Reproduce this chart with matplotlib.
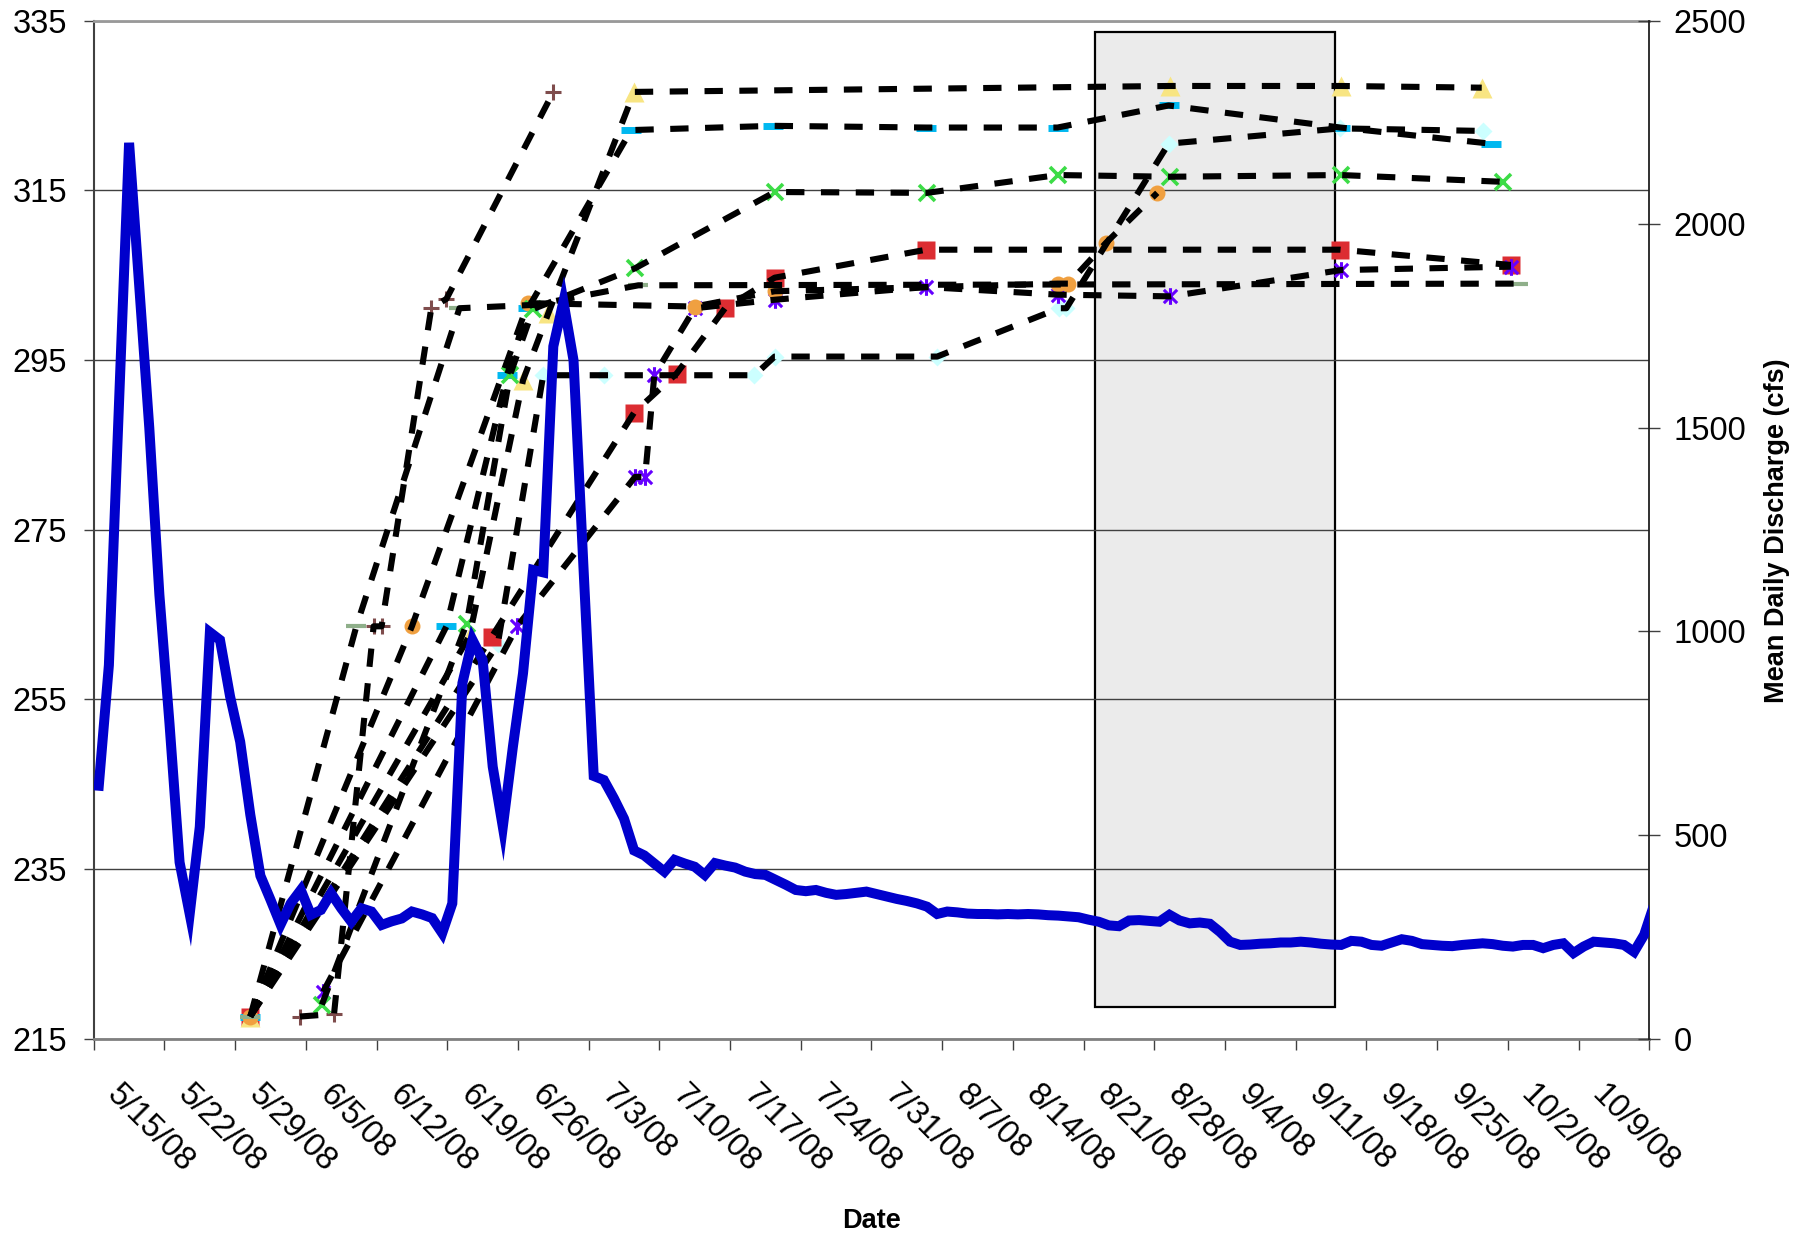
import matplotlib
matplotlib.use('Agg')
import matplotlib.pyplot as plt
import matplotlib.dates as mdates
from matplotlib.path import Path
from matplotlib.patches import Rectangle
from matplotlib.transforms import ScaledTranslation
import pandas as pd

plt.rcParams['font.family'] = ['Liberation Sans', 'DejaVu Sans']

# mean daily discharge (cfs), one value per day from 5/15/08 (plotted at noon)
flow_start = '2008-05-15 12:00'
flow_cfs = [621, 917, 1560, 2200, 1850, 1500, 1090, 774, 433, 306,
            520, 998, 979, 840, 729, 550, 400, 341, 280, 332,
            365, 304, 316, 357, 320, 287, 320, 312, 279, 288,
            295, 312, 305, 296, 259, 332, 873, 979, 930, 668,
            520, 717, 897, 1151, 1145, 1700, 1810, 1666, 1150, 645,
            635, 590, 540, 462, 450, 430, 410, 439, 430, 422,
            402, 431, 425, 420, 410, 404, 402, 390, 378, 365,
            362, 365, 358, 353, 355, 358, 361, 355, 349, 343,
            338, 332, 324, 306, 312, 310, 307, 306, 306, 305,
            306, 305, 306, 305, 303, 302, 300, 298, 292, 287,
            278, 276, 290, 291, 289, 287, 304, 290, 283, 285,
            282, 262, 238, 230, 231, 233, 234, 236, 236, 238,
            236, 233, 231, 230, 240, 238, 230, 228, 236, 244,
            240, 232, 230, 228, 227, 230, 232, 234, 232, 228,
            226, 230, 230, 222, 230, 234, 210, 226, 238, 236,
            234, 230, 213, 255, 330]

# elevation of each tag at each detection
yellow_t = ['2008-05-30 12:00', '2008-06-21 05:00', '2008-06-26 12:00', '2008-06-29 00:00',
            '2008-07-07 12:00', '2008-08-29 14:00', '2008-09-15 12:00', '2008-09-29 10:00']
yellow_v = [217.6, 262.5, 292.6, 300.5, 326.6, 327.3, 327.3, 327.1]

cyan_t = ['2008-05-30 12:00', '2008-06-18 22:00', '2008-06-24 22:00', '2008-06-27 00:00',
          '2008-07-07 05:00', '2008-07-21 07:00', '2008-08-05 10:00', '2008-08-18 10:00',
          '2008-08-29 10:00', '2008-09-15 10:00', '2008-09-30 07:00']
cyan_v = [217.6, 263.6, 293.2, 301.1, 322.1, 322.6, 322.4, 322.4, 325.0, 322.4, 320.5]

diamond_t = ['2008-05-30 12:00', '2008-06-24 00:00', '2008-06-28 12:00', '2008-07-04 12:00',
             '2008-07-19 10:00', '2008-07-21 10:00', '2008-08-06 12:00', '2008-08-18 14:00',
             '2008-08-19 07:00', '2008-08-29 10:00', '2008-09-15 10:00', '2008-09-29 12:00']
diamond_v = [217.6, 261.5, 293.2, 293.2, 293.2, 295.4, 295.4, 301.1, 301.1, 320.5, 322.3, 322.0]

red_t = ['2008-05-30 12:00', '2008-06-23 10:00', '2008-07-07 12:00', '2008-07-11 17:00',
         '2008-07-16 12:00', '2008-07-21 10:00', '2008-08-05 10:00', '2008-09-15 10:00',
         '2008-10-02 07:00']
red_v = [217.6, 262.4, 288.8, 293.4, 301.1, 304.7, 308.0, 308.0, 306.2]

purple_t = ['2008-06-06 17:00', '2008-06-25 22:00', '2008-07-07 14:00', '2008-07-08 14:00',
            '2008-07-09 12:00', '2008-07-13 12:00', '2008-07-21 10:00', '2008-08-05 10:00',
            '2008-08-18 10:00', '2008-08-29 14:00', '2008-09-15 12:00', '2008-10-02 07:00']
purple_v = [220.5, 263.6, 281.2, 281.2, 293.2, 301.1, 302.1, 303.6, 302.7, 302.5, 305.6, 306.0]

green_t = ['2008-06-06 14:00', '2008-06-20 22:00', '2008-06-25 05:00', '2008-06-27 12:00',
           '2008-07-07 14:00', '2008-07-21 10:00', '2008-08-05 12:00', '2008-08-18 10:00',
           '2008-08-29 14:00', '2008-09-15 12:00', '2008-10-01 12:00']
green_v = [219.0, 263.9, 293.2, 301.0, 305.8, 314.8, 314.7, 316.8, 316.6, 316.8, 316.0]

orange_t = ['2008-05-30 12:00', '2008-06-15 12:00', '2008-06-27 00:00', '2008-07-13 12:00',
            '2008-07-21 10:00', '2008-08-18 10:00', '2008-08-19 12:00', '2008-08-23 05:00',
            '2008-08-28 07:00']
orange_v = [217.6, 263.6, 301.7, 301.3, 303.1, 304.0, 304.0, 308.8, 314.7]

brown_t = ['2008-06-04 10:00', '2008-06-07 19:00', '2008-06-11 17:00', '2008-06-12 12:00',
           '2008-06-17 10:00', '2008-06-18 22:00', '2008-06-29 12:00']
brown_v = [217.6, 217.9, 263.6, 263.6, 301.1, 302.2, 326.6]

olive_t = ['2008-05-30 12:00', '2008-06-10 00:00', '2008-06-20 05:00', '2008-06-27 17:00',
           '2008-07-07 22:00', '2008-10-03 00:00']
olive_v = [217.6, 263.6, 301.1, 301.5, 303.8, 304.0]

# shaded period
box_start, box_end = '2008-08-22 04:00', '2008-09-14 22:00'
box_low, box_high = 218.7, 333.7

# x axis
x_min, x_max = '2008-05-15', '2008-10-16'
tick_labels = ['5/15/08', '5/22/08', '5/29/08', '6/5/08', '6/12/08', '6/19/08', '6/26/08',
               '7/3/08', '7/10/08', '7/17/08', '7/24/08', '7/31/08', '8/7/08', '8/14/08',
               '8/21/08', '8/28/08', '9/4/08', '9/11/08', '9/18/08', '9/25/08', '10/2/08',
               '10/9/08']

# Excel "star" marker: an x with a vertical bar
star = Path([(0, -1), (0, 1), (-0.8, -0.8), (0.8, 0.8), (-0.8, 0.8), (0.8, -0.8)],
            [Path.MOVETO, Path.LINETO] * 3)

series = [
    (diamond_t, diamond_v, dict(marker='D', ms=9.5, mfc='#CCFFFF', mec='none')),
    (red_t, red_v, dict(marker='s', ms=13, mfc='#DC2D32', mec='none')),
    (yellow_t, yellow_v, dict(marker='^', ms=14, mfc='#F8E582', mec='none')),
    (cyan_t, cyan_v, dict(marker='_', ms=14, mec='#00B8F0', mew=5)),
    (purple_t, purple_v, dict(marker=star, ms=12, mec='#6600FF', mew=2.2)),
    (orange_t, orange_v, dict(marker='o', ms=11.5, mfc='#F0A040', mec='none')),
    (brown_t, brown_v, dict(marker='+', ms=11.5, mec='#7F4C4C', mew=2.2)),
    (green_t, green_v, dict(marker='x', ms=12, mec='#3CDC46', mew=2.6)),
    (olive_t, olive_v, dict(marker='_', ms=14, mec='#8FAF8A', mew=3)),
]

fig = plt.figure(figsize=(18.06, 12.37), dpi=100)
ax = fig.add_axes([0.0519, 0.1604, 0.8613, 0.8229])
ax2 = ax.twinx()

t0 = mdates.date2num(pd.Timestamp(box_start))
t1 = mdates.date2num(pd.Timestamp(box_end))
ax.add_patch(Rectangle((t0, box_low), t1 - t0, box_high - box_low,
                       facecolor='#EBEBEB', edgecolor='black', lw=1.6, zorder=0.4))

for t, v, style in series:
    t = pd.to_datetime(t)
    ax.plot(t, v, linestyle='none', zorder=3, **style)
    ax.plot(t, v, color='black', lw=4.4, dashes=(3.0, 2.7), zorder=4)

flow_t = pd.date_range(flow_start, periods=len(flow_cfs), freq='D')
ax2.plot(flow_t, flow_cfs, color='#0000CC', lw=7.2, solid_joinstyle='miter', zorder=5)

ax.set_xlim(pd.Timestamp(x_min), pd.Timestamp(x_max))
ax.set_ylim(215, 335)
ax2.set_ylim(0, 2500)
ax.set_yticks(range(215, 336, 20))
ax2.set_yticks(range(0, 2501, 500))

ticks = pd.date_range(x_min, x_max, freq='7D')
ax.set_xticks(ticks)
ax.tick_params(axis='x', labelbottom=False)
label_trans = ax.get_xaxis_transform() + ScaledTranslation(0.29, -0.40, fig.dpi_scale_trans)
for t, lab in zip(ticks, tick_labels):
    ax.text(t, 0, lab, transform=label_trans, fontsize=23.5, rotation=-45,
            rotation_mode='anchor', ha='left', va='top')

ax.yaxis.grid(True, color='#404040', lw=1)
ax.set_axisbelow(True)

ax.tick_params(axis='y', direction='out', length=7, width=1, color='#404040', labelsize=23.5, pad=12)
ax.tick_params(axis='x', direction='out', length=8, width=1, color='#404040')
ax2.tick_params(axis='y', direction='inout', length=15.5, width=1, color='#404040', labelsize=23.5, pad=9.7)

for s in ['left', 'right', 'top', 'bottom']:
    ax2.spines[s].set_visible(False)
ax.spines['right'].set_visible(False)
ax2.spines['right'].set_visible(True)
ax2.spines['right'].set_color('#202020')
ax2.spines['right'].set_linewidth(1.3)
ax.spines['left'].set_color('#404040')
ax.spines['left'].set_linewidth(1.5)
ax.spines['top'].set_color('#999999')
ax.spines['top'].set_linewidth(2)
ax.spines['bottom'].set_color('#808080')
ax.spines['bottom'].set_linewidth(2)

fig.text(0.4826, 0.0129, 'Date', fontsize=19.5, fontweight='bold', ha='center', va='center')
fig.text(0.984, 0.5707, 'Mean Daily Discharge (cfs)', fontsize=19.5, fontweight='bold',
         rotation=90, ha='center', va='center')

fig.savefig('out.png', dpi=100)
